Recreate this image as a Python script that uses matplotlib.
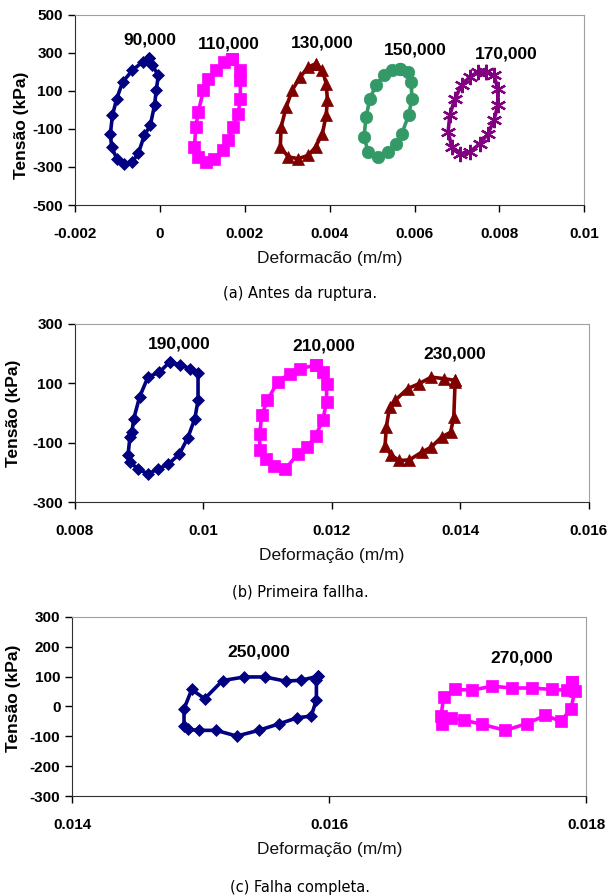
import numpy as np
import matplotlib.pyplot as plt

plt.rcParams['font.family'] = ['Liberation Sans', 'DejaVu Sans']
plt.rcParams['axes.unicode_minus'] = False

# (a) Antes da ruptura
x_90k = [-0.00026, -0.00017, -0.00003, -0.00008, -0.00012, -0.00022, -0.00036, -0.00050, -0.00064,
         -0.00083, -0.00101, -0.00113, -0.00116, -0.00111, -0.00101, -0.00087, -0.00064, -0.00040, -0.00026]
y_90k = [275, 235, 182, 104, 25, -81, -133, -228, -272, -282, -256, -195, -125, -28, 60, 147, 209, 253, 275]

x_110k = [0.00171, 0.00190, 0.00190, 0.00190, 0.00185, 0.00173, 0.00162, 0.00148, 0.00129, 0.00110,
          0.00091, 0.00082, 0.00085, 0.00091, 0.00103, 0.00115, 0.00133, 0.00152, 0.00171]
y_110k = [270, 209, 156, 60, -21, -89, -160, -212, -256, -274, -247, -195, -89, -11, 104, 165, 209, 253, 270]

x_130k = [0.00368, 0.00383, 0.00392, 0.00395, 0.00392, 0.00383, 0.00367, 0.00350, 0.00326, 0.00303,
          0.00284, 0.00286, 0.00298, 0.00312, 0.00331, 0.00350, 0.00368]
y_130k = [244, 209, 139, 51, -28, -125, -195, -239, -256, -247, -195, -89, 16, 104, 174, 226, 244]

x_150k = [0.00566, 0.00585, 0.00592, 0.00594, 0.00586, 0.00570, 0.00556, 0.00538, 0.00514, 0.00491,
          0.00481, 0.00486, 0.00495, 0.00509, 0.00528, 0.00547, 0.00566]
y_150k = [218, 200, 147, 60, -28, -125, -177, -221, -247, -221, -142, -37, 60, 130, 182, 209, 218]

x_170k = [0.00768, 0.00787, 0.00796, 0.00796, 0.00787, 0.00773, 0.00754, 0.00730, 0.00707, 0.00688,
          0.00679, 0.00683, 0.00695, 0.00711, 0.00730, 0.00749, 0.00768]
y_170k = [200, 182, 112, 25, -54, -125, -177, -221, -230, -195, -116, -28, 60, 130, 174, 200, 200]

# (b) Primeira fallha
x_190k = [0.00948, 0.00964, 0.00980, 0.00992, 0.00992, 0.00987, 0.00976, 0.00963, 0.00946, 0.00930,
          0.00914, 0.00899, 0.00886, 0.00883, 0.00886, 0.00889, 0.00892, 0.00901, 0.00914, 0.00932, 0.00948]
y_190k = [172, 161, 150, 135, 43, -19, -84, -138, -172, -189, -205, -189, -166, -143, -81, -65, -19, 54, 121, 138, 172]

x_210k = [0.01176, 0.01187, 0.01192, 0.01192, 0.01186, 0.01175, 0.01162, 0.01147, 0.01128, 0.01110,
          0.01097, 0.01088, 0.01088, 0.01091, 0.01100, 0.01116, 0.01135, 0.01150, 0.01176]
y_210k = [161, 138, 99, 37, -25, -76, -115, -138, -189, -177, -155, -126, -70, -8, 43, 105, 133, 150, 161]

x_230k = [0.01392, 0.01392, 0.01390, 0.01385, 0.01371, 0.01355, 0.01340, 0.01321, 0.01305, 0.01293,
          0.01283, 0.01285, 0.01290, 0.01299, 0.01318, 0.01336, 0.01355, 0.01374, 0.01392]
y_230k = [110, 104, -14, -65, -81, -115, -132, -158, -160, -143, -110, -48, 20, 43, 82, 99, 121, 116, 110]

# (c) Falha completa
x_250k = [0.01591, 0.01590, 0.01590, 0.01586, 0.01575, 0.01561, 0.01545, 0.01528, 0.01512, 0.01499,
          0.01490, 0.01487, 0.01487, 0.01493, 0.01503, 0.01517, 0.01534, 0.01550, 0.01566, 0.01578, 0.01591]
y_250k = [101, 90, 23, -32, -38, -58, -80, -99, -80, -80, -77, -66, -8, 57, 26, 87, 99, 99, 85, 88, 101]

x_270k = [0.01789, 0.01791, 0.01788, 0.01780, 0.01768, 0.01754, 0.01737, 0.01719, 0.01705, 0.01695,
          0.01688, 0.01687, 0.01689, 0.01698, 0.01711, 0.01727, 0.01742, 0.01758, 0.01773, 0.01785, 0.01789]
y_270k = [81, 51, -10, -49, -30, -57, -80, -60, -46, -38, -60, -32, 32, 57, 55, 68, 62, 62, 57, 55, 81]

navy, magenta, maroon, green, purple = '#000080', '#FF00FF', '#800000', '#339966', '#800080'
star = (6, 2, 0)

panels = [
    dict(rect=[0.122, 0.7712, 0.833, 0.2121], xlim=(-0.002, 0.01), ylim=(-500, 500),
         xticks=[-0.002, 0, 0.002, 0.004, 0.006, 0.008, 0.01],
         xticklabels=['-0.002', '0', '0.002', '0.004', '0.006', '0.008', '0.01'],
         yticks=[-500, -300, -100, 100, 300, 500],
         xlabel='Deformacão (m/m)', caption='(a) Antes da ruptura.', cap_y=293, ylab=(-0.09, 0.42),
         loops=[(x_90k, y_90k, navy, 'D', 6, '90,000', -0.00022, 370),
                (x_110k, y_110k, magenta, 's', 8, '110,000', 0.00164, 345),
                (x_130k, y_130k, maroon, '^', 8, '130,000', 0.00383, 354),
                (x_150k, y_150k, green, 'o', 9, '150,000', 0.00601, 314),
                (x_170k, y_170k, purple, star, 11, '170,000', 0.00815, 296)]),
    dict(rect=[0.122, 0.4397, 0.840, 0.1987], xlim=(0.008, 0.016), ylim=(-300, 300),
         xticks=[0.008, 0.01, 0.012, 0.014, 0.016],
         xticklabels=['0.008', '0.01', '0.012', '0.014', '0.016'],
         yticks=[-300, -100, 100, 300],
         xlabel='Deformação (m/m)', caption='(b) Primeira fallha.', cap_y=592, ylab=(-0.105, 0.5),
         loops=[(x_190k, y_190k, navy, 'D', 6, '190,000', 0.00963, 234),
                (x_210k, y_210k, magenta, 's', 8, '210,000', 0.01187, 225),
                (x_230k, y_230k, maroon, '^', 8, '230,000', 0.01392, 198)]),
    dict(rect=[0.118, 0.1116, 0.840, 0.1998], xlim=(0.014, 0.018), ylim=(-300, 300),
         xticks=[0.014, 0.016, 0.018],
         xticklabels=['0.014', '0.016', '0.018'],
         yticks=[-300, -200, -100, 0, 100, 200, 300],
         xlabel='Deformação (m/m)', caption='(c) Falha completa.', cap_y=887, ylab=(-0.1, 0.545),
         loops=[(x_250k, y_250k, navy, 'D', 6, '250,000', 0.01545, 182),
                (x_270k, y_270k, magenta, 's', 8, '270,000', 0.01750, 163)]),
]

fig = plt.figure(figsize=(6.12, 8.96), dpi=100)

for p in panels:
    ax = fig.add_axes(p['rect'])
    for xs, ys, c, m, ms, lab, lx, ly in p['loops']:
        ax.plot(xs, ys, color=c, lw=2.6, marker=m, markersize=ms, markeredgecolor=c,
                markeredgewidth=1.6 if m == star else 0.5)
        ax.text(lx, ly, lab, ha='center', va='center', fontsize=12.5, fontweight='bold')
    ax.set_xlim(*p['xlim'])
    ax.set_ylim(*p['ylim'])
    ax.set_xticks(p['xticks'])
    ax.set_xticklabels(p['xticklabels'])
    ax.set_yticks(p['yticks'])
    ax.tick_params(direction='out', length=5, width=1, labelsize=11)
    ax.tick_params(axis='x', pad=11)
    for t in ax.get_xticklabels() + ax.get_yticklabels():
        t.set_fontweight('bold')
    for s in ['top', 'right']:
        ax.spines[s].set_color('#a0a0a0')
    for s in ['left', 'bottom']:
        ax.spines[s].set_color('#303030')
    ax.set_xlabel(p['xlabel'], fontsize=12.5, labelpad=7, color='#111111')
    ax.set_ylabel('Tensão (kPa)', fontsize=12.5, fontweight='bold')
    ax.yaxis.set_label_coords(*p['ylab'])
    fig.text(0.49, 1 - p['cap_y'] / 896, p['caption'], ha='center', va='center',
             fontsize=10.5, family='DejaVu Sans')

fig.savefig('out.png', dpi=100)
